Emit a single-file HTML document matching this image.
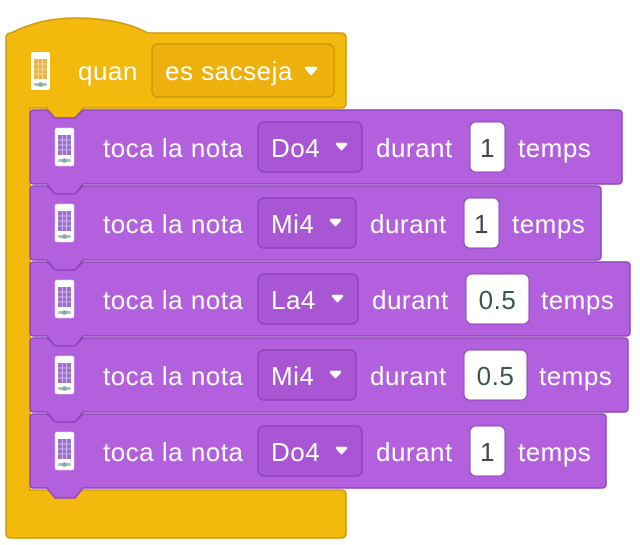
<!DOCTYPE html>
<html><head><style>
html,body{margin:0;padding:0;background:#fff;width:640px;height:545px;overflow:hidden}
text{font-family:"Liberation Sans",sans-serif;font-size:26px;letter-spacing:0.5px}
</style></head><body>
<svg width="640" height="545" viewBox="0 0 640 545" xmlns="http://www.w3.org/2000/svg">
<defs>
<g id="ic">
<rect x="0" y="0" width="19" height="38" rx="2" fill="#fff" stroke="#ddd" stroke-width="0.5"/>
<rect x="3" y="7" width="13" height="20" fill="#9a6fd0"/>
<path d="M3 12h13M3 17h13M3 22h13M7.3 7v20M11.6 7v20" stroke="#d8c8ef" stroke-width="0.8"/>
<rect x="3" y="31" width="13" height="3" rx="1.5" fill="#9fc7b8"/>
<circle cx="9.5" cy="32.5" r="2.3" fill="#8aa"/>
</g>
<g id="icy">
<rect x="0" y="0" width="19" height="38" rx="2" fill="#fff"/>
<rect x="3" y="7" width="13" height="20" fill="#e9b54a"/>
<path d="M3 12h13M3 17h13M3 22h13M7.3 7v20M11.6 7v20" stroke="#f6dc9c" stroke-width="0.8"/>
<rect x="3" y="31" width="13" height="3" rx="1.5" fill="#9fc7b8"/>
<circle cx="9.5" cy="32.5" r="2.3" fill="#8aa"/>
</g>
</defs>
<!-- hat / C block -->
<path d="M6,38 Q6,33 11,33 Q40,18 75,18 Q120,18 148,33 H341 Q346,33 346,38 V103 Q346,108 341,108 H83 l-8,10 h-20 l-8,-10 H30 V490 H341 Q346,490 346,495 V533 Q346,538 341,538 H11 Q6,538 6,533 Z" fill="#f3b90d" stroke="#cf9b0b" stroke-width="1.5"/>
<use href="#icy" x="31" y="52"/>
<text x="78" y="80" fill="#fff">quan</text>
<rect x="152" y="44" width="182" height="53" rx="6" fill="#eeb00c" stroke="#cc970a" stroke-width="1.5"/>
<text x="165" y="80" fill="#fff">es sacseja</text>
<path d="M306,68 h10 l-5,6z" fill="#fff" stroke="#fff" stroke-width="2.5" stroke-linejoin="round"/>

<!-- purple blocks -->
<g stroke="#8f47bb" stroke-width="1.5" fill="#b360de">
<path d="M30,114 q0-4 4-4 H47 l8,8 h20 l8,-8 H618 q4,0 4,4 V180 q0,4 -4,4 H83 l-8,10 h-20 l-8,-10 H34 q-4,0 -4,-4 Z"/>
<path d="M30,190 q0-4 4-4 H47 l8,8 h20 l8,-8 H597 q4,0 4,4 V256 q0,4 -4,4 H83 l-8,10 h-20 l-8,-10 H34 q-4,0 -4,-4 Z"/>
<path d="M30,266 q0-4 4-4 H47 l8,8 h20 l8,-8 H626 q4,0 4,4 V332 q0,4 -4,4 H83 l-8,10 h-20 l-8,-10 H34 q-4,0 -4,-4 Z"/>
<path d="M30,342 q0-4 4-4 H47 l8,8 h20 l8,-8 H624 q4,0 4,4 V408 q0,4 -4,4 H83 l-8,10 h-20 l-8,-10 H34 q-4,0 -4,-4 Z"/>
<path d="M30,418 q0-4 4-4 H47 l8,8 h20 l8,-8 H602 q4,0 4,4 V484 q0,4 -4,4 H83 l-8,10 h-20 l-8,-10 H34 q-4,0 -4,-4 Z"/>
</g>

<!-- block 1 -->
<use href="#ic" x="55" y="128"/>
<text x="103" y="157" fill="#fff">toca la nota</text>
<rect x="258" y="122" width="104" height="50" rx="6" fill="#a856d4" stroke="#8d44b9" stroke-width="1.5"/>
<text x="271" y="157" fill="#fff">Do4</text>
<path d="M337,144 h9 l-4.5,5z" fill="#fff" stroke="#fff" stroke-width="2.5" stroke-linejoin="round"/>
<text x="376" y="157" fill="#fff">durant</text>
<rect x="470" y="122" width="35" height="50" rx="6" fill="#fff" stroke="#8d44b9" stroke-width="1"/>
<text x="487.5" y="157" fill="#445" text-anchor="middle">1</text>
<text x="518" y="157" fill="#fff">temps</text>

<!-- block 2 -->
<use href="#ic" x="55" y="204"/>
<text x="103" y="233" fill="#fff">toca la nota</text>
<rect x="258" y="198" width="98" height="50" rx="6" fill="#a856d4" stroke="#8d44b9" stroke-width="1.5"/>
<text x="271" y="233" fill="#fff">Mi4</text>
<path d="M331,220 h9 l-4.5,5z" fill="#fff" stroke="#fff" stroke-width="2.5" stroke-linejoin="round"/>
<text x="370" y="233" fill="#fff">durant</text>
<rect x="464" y="198" width="35" height="50" rx="6" fill="#fff" stroke="#8d44b9" stroke-width="1"/>
<text x="481.5" y="233" fill="#445" text-anchor="middle">1</text>
<text x="512" y="233" fill="#fff">temps</text>

<!-- block 3 -->
<use href="#ic" x="55" y="280"/>
<text x="103" y="309" fill="#fff">toca la nota</text>
<rect x="258" y="274" width="100" height="50" rx="6" fill="#a856d4" stroke="#8d44b9" stroke-width="1.5"/>
<text x="271" y="309" fill="#fff">La4</text>
<path d="M333,296 h9 l-4.5,5z" fill="#fff" stroke="#fff" stroke-width="2.5" stroke-linejoin="round"/>
<text x="372" y="309" fill="#fff">durant</text>
<rect x="466" y="274" width="63" height="50" rx="6" fill="#fff" stroke="#8d44b9" stroke-width="1"/>
<text x="497.5" y="309" fill="#3d5550" text-anchor="middle">0.5</text>
<text x="541" y="309" fill="#fff">temps</text>

<!-- block 4 -->
<use href="#ic" x="55" y="356"/>
<text x="103" y="385" fill="#fff">toca la nota</text>
<rect x="258" y="350" width="98" height="50" rx="6" fill="#a856d4" stroke="#8d44b9" stroke-width="1.5"/>
<text x="271" y="385" fill="#fff">Mi4</text>
<path d="M331,372 h9 l-4.5,5z" fill="#fff" stroke="#fff" stroke-width="2.5" stroke-linejoin="round"/>
<text x="370" y="385" fill="#fff">durant</text>
<rect x="464" y="350" width="63" height="50" rx="6" fill="#fff" stroke="#8d44b9" stroke-width="1"/>
<text x="495.5" y="385" fill="#3d5550" text-anchor="middle">0.5</text>
<text x="539" y="385" fill="#fff">temps</text>

<!-- block 5 -->
<use href="#ic" x="55" y="432"/>
<text x="103" y="461" fill="#fff">toca la nota</text>
<rect x="258" y="426" width="104" height="50" rx="6" fill="#a856d4" stroke="#8d44b9" stroke-width="1.5"/>
<text x="271" y="461" fill="#fff">Do4</text>
<path d="M337,448 h9 l-4.5,5z" fill="#fff" stroke="#fff" stroke-width="2.5" stroke-linejoin="round"/>
<text x="376" y="461" fill="#fff">durant</text>
<rect x="470" y="426" width="35" height="50" rx="6" fill="#fff" stroke="#8d44b9" stroke-width="1"/>
<text x="487.5" y="461" fill="#445" text-anchor="middle">1</text>
<text x="518" y="461" fill="#fff">temps</text>
</svg>
</body></html>
